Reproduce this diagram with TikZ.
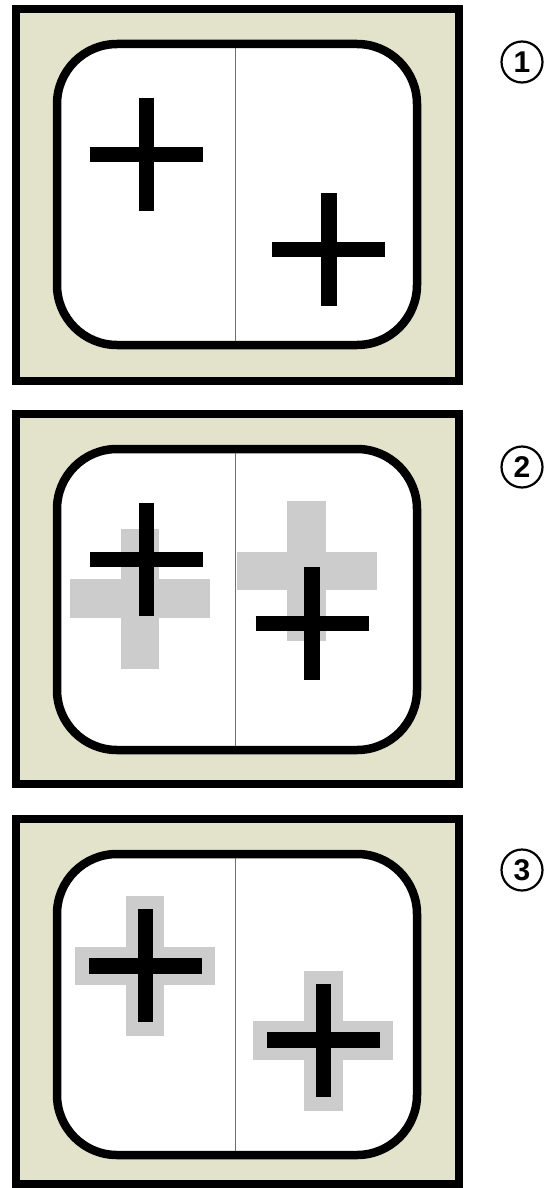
\documentclass[tikz,border=0pt]{standalone}
\usepackage{fontspec}
\newfontfamily\stepfont{Liberation Sans}
\definecolor{screenbg}{RGB}{227,227,203}
\definecolor{ghostgray}{RGB}{204,204,204}
\definecolor{splitgray}{RGB}{110,110,110}

% plus sign: style, x, y, half length
\newcommand{\plusmark}[4]{%
  \draw[#1] (#2-#4,#3) -- (#2+#4,#3) (#2,#3-#4) -- (#2,#3+#4);}

\begin{document}
\begin{tikzpicture}[x=1pt, y=-1pt,
    frame/.style={draw=black, line width=8pt, fill=screenbg},
    screen/.style={draw=black, line width=8.5pt, fill=white, rounded corners=60pt},
    split/.style={draw=splitgray, line width=1pt},
    sharp/.style={draw=black, line width=15.5pt, line cap=butt},
    ghost/.style={draw=ghostgray, line width=38.5pt, line cap=butt},
    stepnum/.style={circle, draw=black, line width=2.2pt, minimum size=41pt,
        inner sep=0pt, font=\stepfont\bfseries\fontsize{30}{30}\selectfont},
]
    \useasboundingbox (0,0) rectangle (547,1188);

    % panel 1
    \draw[frame]  (16,9) rectangle (459,380.5);
    \draw[screen] (57,44) rectangle (417,345);
    \draw[split]  (235,48) -- (235,341);
    \plusmark{sharp}{146.3}{154.5}{56.5}
    \plusmark{sharp}{328.8}{249.5}{56.5}
    \node[stepnum] (s1) at (522,62) {1};

    % panel 2
    \draw[frame]  (16,414) rectangle (459,784);
    \draw[screen] (57,449) rectangle (417,750);
    \draw[split]  (235,453) -- (235,746);
    \plusmark{ghost}{140}{598.5}{70}
    \plusmark{ghost}{306.7}{571}{70}
    \plusmark{sharp}{146.3}{559.3}{56.5}
    \plusmark{sharp}{312}{623.3}{56.5}
    \node[stepnum] (s2) at (522,467) {2};

    % panel 3
    \draw[frame]  (16,819) rectangle (459,1184);
    \draw[screen] (57,854) rectangle (417,1155);
    \draw[split]  (235,858) -- (235,1151);
    \plusmark{ghost}{145}{966}{70}
    \plusmark{ghost}{323.3}{1040.5}{70}
    \plusmark{sharp}{145.3}{965.8}{56.5}
    \plusmark{sharp}{323.3}{1040}{56.5}
    \node[stepnum] (s3) at (522,870) {3};

\end{tikzpicture}
\end{document}
